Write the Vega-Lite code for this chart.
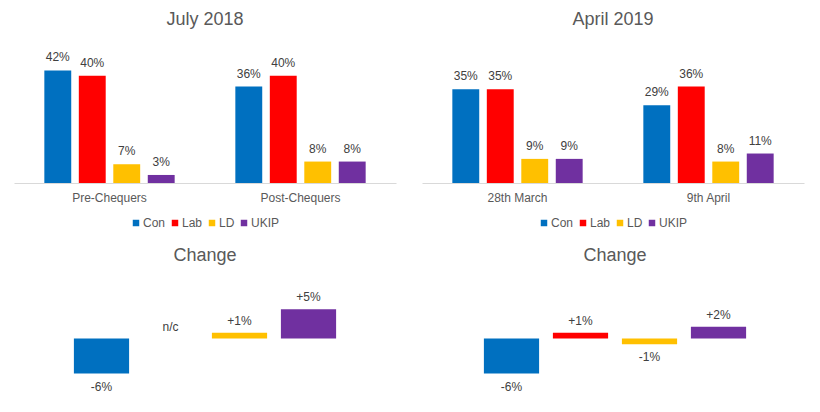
{
  "$schema": "https://vega.github.io/schema/vega-lite/v6.json",
  "padding": {"left": 14, "top": 11, "right": 0, "bottom": 0},
  "background": "white",
  "config": {
    "view": {"stroke": null},
    "font": "Liberation Sans",
    "title": {"font": "Liberation Sans", "fontSize": 18, "fontWeight": "normal", "color": "#595959", "frame": "group"},
    "axis": {"labelFont": "Liberation Sans"},
    "legend": {"labelFont": "Liberation Sans", "layout": {"bottom": {"anchor": "middle"}}}
  },
  "datasets": {
    "top": [
      {"panel": "July 2018", "period": "Pre-Chequers", "party": "Con", "value": 0.42},
      {"panel": "July 2018", "period": "Pre-Chequers", "party": "Lab", "value": 0.40},
      {"panel": "July 2018", "period": "Pre-Chequers", "party": "LD", "value": 0.07},
      {"panel": "July 2018", "period": "Pre-Chequers", "party": "UKIP", "value": 0.03},
      {"panel": "July 2018", "period": "Post-Chequers", "party": "Con", "value": 0.36},
      {"panel": "July 2018", "period": "Post-Chequers", "party": "Lab", "value": 0.40},
      {"panel": "July 2018", "period": "Post-Chequers", "party": "LD", "value": 0.08},
      {"panel": "July 2018", "period": "Post-Chequers", "party": "UKIP", "value": 0.08},
      {"panel": "April 2019", "period": "28th March", "party": "Con", "value": 0.35},
      {"panel": "April 2019", "period": "28th March", "party": "Lab", "value": 0.35},
      {"panel": "April 2019", "period": "28th March", "party": "LD", "value": 0.09},
      {"panel": "April 2019", "period": "28th March", "party": "UKIP", "value": 0.09},
      {"panel": "April 2019", "period": "9th April", "party": "Con", "value": 0.29},
      {"panel": "April 2019", "period": "9th April", "party": "Lab", "value": 0.36},
      {"panel": "April 2019", "period": "9th April", "party": "LD", "value": 0.08},
      {"panel": "April 2019", "period": "9th April", "party": "UKIP", "value": 0.11}
    ],
    "change": [
      {"panel": "July 2018", "party": "Con", "value": -0.06, "label": "-6%"},
      {"panel": "July 2018", "party": "Lab", "value": 0, "label": "n/c"},
      {"panel": "July 2018", "party": "LD", "value": 0.01, "label": "+1%"},
      {"panel": "July 2018", "party": "UKIP", "value": 0.05, "label": "+5%"},
      {"panel": "April 2019", "party": "Con", "value": -0.06, "label": "-6%"},
      {"panel": "April 2019", "party": "Lab", "value": 0.01, "label": "+1%"},
      {"panel": "April 2019", "party": "LD", "value": -0.01, "label": "-1%"},
      {"panel": "April 2019", "party": "UKIP", "value": 0.02, "label": "+2%"}
    ]
  },
  "spacing": 18,
  "resolve": {"scale": {"color": "independent", "x": "independent", "y": "independent"}, "legend": {"color": "independent"}},
  "vconcat": [
    {
      "spacing": 26,
      "resolve": {"scale": {"color": "independent", "x": "independent", "y": "independent", "xOffset": "independent"}, "legend": {"color": "independent"}},
      "hconcat": [
        {
          "width": 382, "height": 134,
          "title": {"text": "July 2018", "offset": 20},
          "data": {"name": "top"},
          "transform": [{"filter": "datum.panel === 'July 2018'"}],
          "encoding": {
            "x": {"field": "period", "type": "nominal", "sort": null, "scale": {"paddingInner": 0, "paddingOuter": 0},
                  "axis": {"title": null, "labelAngle": 0, "ticks": false, "domainColor": "#d9d9d9", "labelColor": "#595959", "labelFontSize": 12, "labelPadding": 9, "grid": false}},
            "xOffset": {"field": "party", "type": "nominal", "sort": ["Con", "Lab", "LD", "UKIP"], "scale": {"paddingInner": 0.22, "paddingOuter": 0.88}},
            "y": {"field": "value", "type": "quantitative", "scale": {"domain": [0, 0.5]}, "axis": null}
          },
          "layer": [
            {"mark": {"type": "bar"},
             "encoding": {"color": {"field": "party", "type": "nominal", "sort": ["Con", "Lab", "LD", "UKIP"],
               "scale": {"domain": ["Con", "Lab", "LD", "UKIP"], "range": ["#0070C0", "#FF0000", "#FFC000", "#7030A0"]},
               "legend": {"orient": "bottom", "direction": "horizontal", "title": null, "symbolType": "square", "symbolSize": 42, "symbolStrokeWidth": 0, "labelFontSize": 12, "labelColor": "#595959", "labelOffset": 1, "columnPadding": 3, "offset": 14}}}},
            {"mark": {"type": "text", "dy": -13, "fontSize": 12, "color": "#404040"},
             "encoding": {"text": {"field": "value", "type": "quantitative", "format": ".0%"}}}
          ]
        },
        {
          "width": 382, "height": 134,
          "title": {"text": "April 2019", "offset": 20},
          "data": {"name": "top"},
          "transform": [{"filter": "datum.panel === 'April 2019'"}],
          "encoding": {
            "x": {"field": "period", "type": "nominal", "sort": null, "scale": {"paddingInner": 0, "paddingOuter": 0},
                  "axis": {"title": null, "labelAngle": 0, "ticks": false, "domainColor": "#d9d9d9", "labelColor": "#595959", "labelFontSize": 12, "labelPadding": 9, "grid": false}},
            "xOffset": {"field": "party", "type": "nominal", "sort": ["Con", "Lab", "LD", "UKIP"], "scale": {"paddingInner": 0.22, "paddingOuter": 0.88}},
            "y": {"field": "value", "type": "quantitative", "scale": {"domain": [0, 0.5]}, "axis": null}
          },
          "layer": [
            {"mark": {"type": "bar"},
             "encoding": {"color": {"field": "party", "type": "nominal", "sort": ["Con", "Lab", "LD", "UKIP"],
               "scale": {"domain": ["Con", "Lab", "LD", "UKIP"], "range": ["#0070C0", "#FF0000", "#FFC000", "#7030A0"]},
               "legend": {"orient": "bottom", "direction": "horizontal", "title": null, "symbolType": "square", "symbolSize": 42, "symbolStrokeWidth": 0, "labelFontSize": 12, "labelColor": "#595959", "labelOffset": 1, "columnPadding": 3, "offset": 14}}}},
            {"mark": {"type": "text", "dy": -13, "fontSize": 12, "color": "#404040"},
             "encoding": {"text": {"field": "value", "type": "quantitative", "format": ".0%"}}}
          ]
        }
      ]
    },
    {
      "spacing": 28,
      "resolve": {"scale": {"color": "independent", "x": "independent", "y": "independent"}},
      "hconcat": [
        {
          "width": 382, "height": 105,
          "title": {"text": "Change", "offset": 21},
          "data": {"name": "change"},
          "transform": [{"filter": "datum.panel === 'July 2018'"}],
          "encoding": {
            "x": {"field": "party", "type": "nominal", "sort": ["Con", "Lab", "LD", "UKIP"], "scale": {"paddingInner": 0.2, "paddingOuter": 0.868}, "axis": null},
            "y": {"field": "value", "type": "quantitative", "scale": {"domain": [-0.09, 0.09]}, "axis": null}
          },
          "layer": [
            {"mark": {"type": "bar"},
             "encoding": {"color": {"field": "party", "type": "nominal", "scale": {"domain": ["Con", "Lab", "LD", "UKIP"], "range": ["#0070C0", "#FF0000", "#FFC000", "#7030A0"]}, "legend": null}}},
            {"transform": [{"filter": "datum.value >= 0"}],
             "mark": {"type": "text", "dy": -12, "fontSize": 12, "color": "#404040"},
             "encoding": {"text": {"field": "label", "type": "nominal"}}},
            {"transform": [{"filter": "datum.value < 0"}],
             "mark": {"type": "text", "dy": 13, "fontSize": 12, "color": "#404040"},
             "encoding": {"text": {"field": "label", "type": "nominal"}}}
          ]
        },
        {
          "width": 382, "height": 105,
          "title": {"text": "Change", "offset": 21},
          "data": {"name": "change"},
          "transform": [{"filter": "datum.panel === 'April 2019'"}],
          "encoding": {
            "x": {"field": "party", "type": "nominal", "sort": ["Con", "Lab", "LD", "UKIP"], "scale": {"paddingInner": 0.2, "paddingOuter": 0.868}, "axis": null},
            "y": {"field": "value", "type": "quantitative", "scale": {"domain": [-0.09, 0.09]}, "axis": null}
          },
          "layer": [
            {"mark": {"type": "bar"},
             "encoding": {"color": {"field": "party", "type": "nominal", "scale": {"domain": ["Con", "Lab", "LD", "UKIP"], "range": ["#0070C0", "#FF0000", "#FFC000", "#7030A0"]}, "legend": null}}},
            {"transform": [{"filter": "datum.value >= 0"}],
             "mark": {"type": "text", "dy": -12, "fontSize": 12, "color": "#404040"},
             "encoding": {"text": {"field": "label", "type": "nominal"}}},
            {"transform": [{"filter": "datum.value < 0"}],
             "mark": {"type": "text", "dy": 13, "fontSize": 12, "color": "#404040"},
             "encoding": {"text": {"field": "label", "type": "nominal"}}}
          ]
        }
      ]
    }
  ]
}
